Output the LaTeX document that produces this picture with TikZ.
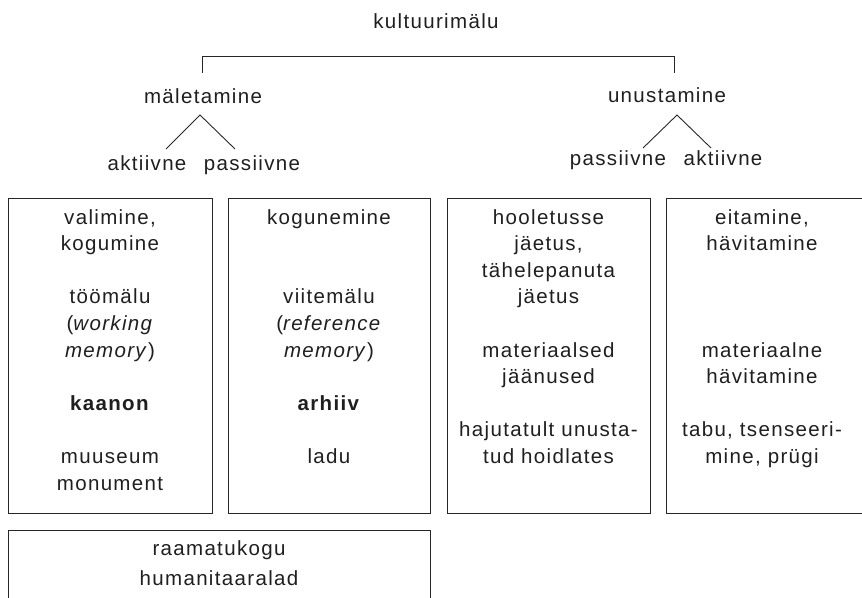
\documentclass[tikz,border=0pt]{standalone}
\usepackage{fontspec}
\setmainfont{Liberation Sans}[LetterSpace=6.5]
\begin{document}
\begin{tikzpicture}[x=1pt,y=-1pt,
  lbl/.style={inner sep=0pt, outer sep=0pt, text=black!88, font=\fontsize{20.5}{26.6}\selectfont},
  boxtxt/.style={lbl, align=center, anchor=north},
  frame/.style={draw=black!85, line width=0.9pt},
  link/.style={draw=black!85, line width=0.9pt}]
\useasboundingbox (0,0) rectangle (862,597);
\clip (0,0) rectangle (862,597);
% top labels
\node[lbl, anchor=base] (root) at (436,28) {kultuurimälu};
\node[lbl, anchor=base] (mal) at (203,103) {mäletamine};
\node[lbl, anchor=base] (unu) at (667,102) {unustamine};
\node[lbl, anchor=base] (makt) at (147,170) {aktiivne};
\node[lbl, anchor=base] (mpas) at (252,170) {passiivne};
\node[lbl, anchor=base] (upas) at (618,165) {passiivne};
\node[lbl, anchor=base] (uakt) at (723,165) {aktiivne};
% bracket
\coordinate (bl) at (202,73);
\coordinate (br) at (674,73);
\coordinate (bkl) at (202,56);
\coordinate (bkr) at (674,56);
\draw[link] (bl) -- (bkl) -- (bkr) -- (br);
% branches
\coordinate (ma) at (200,115);
\coordinate (ml) at (166,149);
\coordinate (mr) at (235,149);
\draw[link] (ml) -- (ma) -- (mr);
\coordinate (ua) at (677,115);
\coordinate (ul) at (643,148);
\coordinate (ur) at (711,148);
\draw[link] (ul) -- (ua) -- (ur);
% boxes
\draw[frame] (8,198) rectangle (212,513);
\draw[frame] (228,198) rectangle (430,513);
\draw[frame] (447,198) rectangle (650,513);
\draw[frame] (666,198) rectangle (890,513);
\draw[frame] (8,530) rectangle (430,640);
% box texts
\node[boxtxt] (t1) at (110,205.4) {\strut valimine,\\kogumine\\[26.6pt]töömälu\\(\textit{working}\\\textit{memory})\\[26.6pt]\textbf{kaanon}\\[26.6pt]muuseum\\monument};
\node[boxtxt] (t2) at (329,205.4) {\strut kogunemine\\[53.2pt]viitemälu\\(\textit{reference}\\\textit{memory})\\[26.6pt]\textbf{arhiiv}\\[26.6pt]ladu};
\node[boxtxt] (t3) at (548.5,205.4) {\strut hooletusse\\jäetus,\\tähelepanuta\\jäetus\\[26.6pt]materiaalsed\\jäänused\\[26.6pt]hajutatult unusta-\\tud hoidlates};
\node[boxtxt] (t4) at (762,205.4) {\strut eitamine,\\hävitamine\\[79.8pt]materiaalne\\hävitamine\\[26.6pt]tabu, tsenseeri-\\mine, prügi};
\node[lbl, anchor=base] (t5a) at (219,555) {raamatukogu};
\node[lbl, anchor=base] (t5b) at (219,585) {humanitaaralad};
\end{tikzpicture}
\end{document}
